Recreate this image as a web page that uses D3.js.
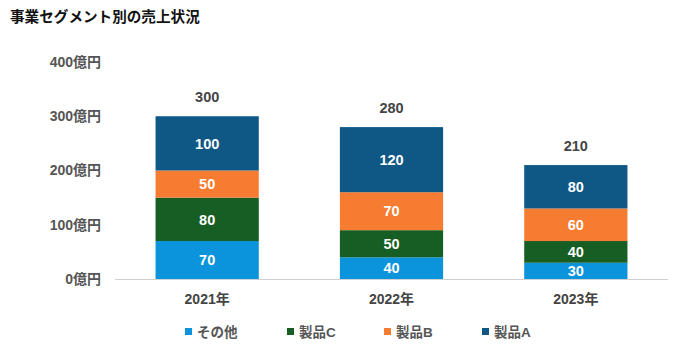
<!DOCTYPE html>
<html><head><meta charset="utf-8">
<script src="https://cdn.jsdelivr.net/npm/d3@7"></script>
<style>
body{margin:0;background:#fff;}
svg{display:block;font-family:"Liberation Sans","Noto Sans CJK JP",sans-serif;}
</style></head>
<body>
<svg id="c" width="688" height="356"></svg>
<script>
const title = "事業セグメント別の売上状況";
const years = ["2021年","2022年","2023年"];
const seriesNames = ["その他","製品C","製品B","製品A"];
const colors = ["#0b94dc","#165e24","#f57c31","#0f5785"];
const other = [70,40,30];
const prodC = [80,50,40];
const prodB = [50,70,60];
const prodA = [100,120,80];
const yTicks = [0,100,200,300,400];
const unit = "億円";

const svg = d3.select("#c");
const m = {l:115, r:20, t:62, b:77};
const x = d3.scaleBand().domain(years).range([m.l, 668]).paddingInner(0.44).paddingOuter(0.22);
const y = d3.scaleLinear().domain([0,400]).range([279, 62]);
const ff = '"Liberation Sans","Noto Sans CJK JP",sans-serif';

svg.append("text").attr("x",10).attr("y",22).attr("font-size",14.6).attr("font-weight","bold")
  .attr("fill","#111").text(title);

const table = years.map((yr,i)=>({year:yr, "その他":other[i], "製品C":prodC[i], "製品B":prodB[i], "製品A":prodA[i]}));
const stack = d3.stack().keys(seriesNames)(table);

const ya = svg.append("g").attr("transform",`translate(${m.l},0)`)
  .call(d3.axisLeft(y).tickValues(yTicks).tickSize(0).tickPadding(14).tickFormat(d=>d+unit));
ya.select(".domain").remove();
ya.selectAll("text").attr("font-size",14).attr("font-weight","bold").attr("fill","#555")
  .style("font-family",ff);

svg.append("line").attr("x1",m.l).attr("x2",668).attr("y1",y(0)+0.5).attr("y2",y(0)+0.5)
  .attr("stroke","#d0d0d0").attr("stroke-width",1);

stack.forEach((s,si)=>{
  const g = svg.append("g");
  g.selectAll("rect").data(s).join("rect")
    .attr("x",d=>x(d.data.year)).attr("width",x.bandwidth())
    .attr("y",d=>y(d[1])).attr("height",d=>y(d[0])-y(d[1]))
    .attr("fill",colors[si]);
  g.selectAll("text").data(s).join("text")
    .attr("x",d=>x(d.data.year)+x.bandwidth()/2)
    .attr("y",d=>(y(d[0])+y(d[1]))/2)
    .attr("dy","0.36em").attr("text-anchor","middle")
    .attr("font-size",14.5).attr("font-weight","bold").attr("fill","#fff")
    .text(d=>d[1]-d[0]);
});

svg.append("g").selectAll("text").data(table).join("text")
  .attr("x",d=>x(d.year)+x.bandwidth()/2)
  .attr("y",d=>y(seriesNames.reduce((a,k)=>a+d[k],0))-14)
  .attr("text-anchor","middle").attr("font-size",14.5).attr("font-weight","bold").attr("fill","#444")
  .text(d=>seriesNames.reduce((a,k)=>a+d[k],0));

const xa = svg.append("g").attr("transform",`translate(0,${y(0)})`)
  .call(d3.axisBottom(x).tickSize(0).tickPadding(15));
xa.select(".domain").remove();
xa.selectAll("text").attr("font-size",14).attr("font-weight","bold").attr("fill","#444")
  .style("font-family",ff);

const legX = [185,287,384,482];
const leg = svg.append("g");
seriesNames.forEach((n,i)=>{
  leg.append("rect").attr("x",legX[i]).attr("y",328).attr("width",7).attr("height",7).attr("fill",colors[i]);
  leg.append("text").attr("x",legX[i]+12).attr("y",337).attr("font-size",13.5).attr("font-weight","bold")
    .attr("fill","#555").text(n);
});
</script>
</body></html>
